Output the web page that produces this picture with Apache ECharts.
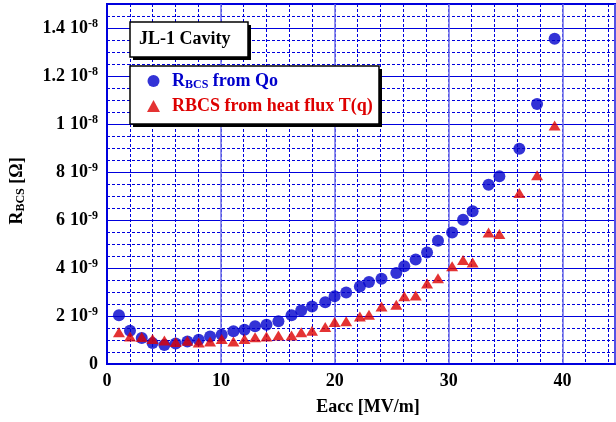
<!DOCTYPE html>
<html><head><meta charset="utf-8">
<script src="https://cdn.jsdelivr.net/npm/echarts@6/dist/echarts.min.js"></script>
<style>html,body{margin:0;padding:0;background:#fff}#c{width:616px;height:422px}</style>
</head><body><div id="c"></div>
<script>
// Accelerating gradient Eacc [MV/m]
const eacc = [1.05, 2.02, 3.05, 4.0, 5.04, 6.03, 7.06, 8.05, 9.05, 10.07, 11.1, 12.07, 13.0, 14.0, 15.05,
  16.2, 17.05, 18.0, 19.16, 19.98, 21.0, 22.2, 23.0, 24.1, 25.4, 26.1, 27.1, 28.1, 29.06, 30.3, 31.26,
  32.1, 33.5, 34.45, 36.2, 37.76, 39.3];
// R_BCS derived from Qo, in units of 1e-9 Ohm
const rbcsQo = [2.03, 1.39, 1.08, 0.87, 0.79, 0.85, 0.94, 1.01, 1.15, 1.22, 1.36, 1.43, 1.57, 1.64, 1.78,
  2.03, 2.23, 2.40, 2.57, 2.82, 2.98, 3.23, 3.42, 3.55, 3.79, 4.07, 4.35, 4.65, 5.14, 5.48, 6.01,
  6.36, 7.47, 7.82, 8.97, 10.83, 13.55];
// R_BCS derived from heat flux T(q), in units of 1e-9 Ohm
const rbcsHeat = [1.32, 1.15, 1.12, 1.04, 0.98, 0.92, 0.97, 0.90, 0.94, 1.04, 0.94, 1.04, 1.11, 1.15, 1.19,
  1.19, 1.32, 1.39, 1.54, 1.75, 1.78, 1.98, 2.05, 2.40, 2.47, 2.82, 2.85, 3.35, 3.57, 4.07, 4.33,
  4.23, 5.48, 5.42, 7.12, 7.86, 9.94];
// y tick labels: value (1e-9 Ohm) -> mantissa and power of ten
const yTickValues = [0, 2, 4, 6, 8, 10, 12, 14];
const yTickMant = ['0', '2', '4', '6', '8', '1', '1.2', '1.4'];
const yTickExp = ['', '-9', '-9', '-9', '-9', '-8', '-8', '-8'];
const xTickValues = [0, 10, 20, 30, 40];

const SERIF = '"Liberation Serif", "Times New Roman", serif';
const BLUE = '#0000cc';
const RED = '#dd0000';
const GRID = '#0000dd';

const chart = echarts.init(document.getElementById('c'), null, {renderer: 'canvas'});

const baseX = {type: 'value', min: 0, max: 44.6, gridIndex: 0, position: 'bottom'};
const baseY = {type: 'value', min: 0, max: 15, gridIndex: 0, position: 'left'};

chart.setOption({
  animation: false,
  backgroundColor: '#fff',
  grid: {left: 107, right: 1, top: 4, bottom: 58, show: true, borderColor: GRID, borderWidth: 2,
    backgroundColor: 'transparent', containLabel: false, outerBoundsMode: 'none'},
  xAxis: [
    Object.assign({}, baseX, {
      interval: 2,
      axisLine: {show: false}, axisTick: {show: false}, axisLabel: {show: false},
      splitLine: {show: true, lineStyle: {color: GRID, width: 1, type: [3, 2]}}
    }),
    Object.assign({}, baseX, {
      interval: 10,
      axisLine: {show: true, lineStyle: {color: GRID, width: 2}},
      axisTick: {show: false},
      splitLine: {show: true, lineStyle: {color: '#6e6ee8', width: 1.5}},
      axisLabel: {
        margin: 8, color: '#000', fontFamily: SERIF, fontWeight: 'bold', fontSize: 18,
        formatter: v => xTickValues.includes(v) ? String(v) : ''
      },
      name: 'Eacc [MV/m]', nameLocation: 'middle', nameGap: 34,
      nameTextStyle: {color: '#000', fontFamily: SERIF, fontWeight: 'bold', fontSize: 18, padding: [0, 0, 0, 14]}
    })
  ],
  yAxis: [
    Object.assign({}, baseY, {
      interval: 0.5,
      axisLine: {show: false}, axisTick: {show: false}, axisLabel: {show: false},
      splitLine: {show: true, lineStyle: {color: GRID, width: 1, type: [3, 2]}}
    }),
    Object.assign({}, baseY, {
      interval: 2,
      axisLine: {show: true, lineStyle: {color: GRID, width: 2}},
      axisTick: {show: false},
      splitLine: {show: true, lineStyle: {color: GRID, width: 1}},
      axisLabel: {
        margin: 9, color: '#000',
        formatter: v => {
          const i = yTickValues.indexOf(v);
          if (i < 0) return '';
          if (!yTickExp[i]) return '{m|' + yTickMant[i] + '}';
          return '{m|' + yTickMant[i] + '}{t|10}{e|' + yTickExp[i] + '}';
        },
        rich: {
          m: {fontFamily: SERIF, fontWeight: 'bold', fontSize: 18, lineHeight: 20, color: '#000'},
          t: {fontFamily: SERIF, fontWeight: 'bold', fontSize: 18, lineHeight: 20, color: '#000', padding: [0, 0, 0, 5]},
          e: {fontFamily: SERIF, fontWeight: 'bold', fontSize: 12, lineHeight: 12, verticalAlign: 'top', color: '#000'}
        }
      },
      name: '{m|R}{s|BCS}{m| [Ω]}', nameLocation: 'middle', nameGap: 80, nameRotate: 90,
      nameTextStyle: {
        padding: [0, 14, 0, 0],
        rich: {
          m: {fontFamily: SERIF, fontWeight: 'bold', fontSize: 18, lineHeight: 20, color: '#000'},
          s: {fontFamily: SERIF, fontWeight: 'bold', fontSize: 12, lineHeight: 12, verticalAlign: 'bottom', color: '#000'}
        }
      }
    })
  ],
  legend: {
    orient: 'vertical', left: 147, top: 72, padding: 0, itemWidth: 13, itemHeight: 12, itemGap: 6, z: 20,
    selectedMode: false,
    data: [
      {name: 'qo', icon: 'circle', textStyle: {color: BLUE}},
      {name: 'heat', icon: 'triangle', textStyle: {color: RED}}
    ],
    formatter: n => n === 'qo' ? '{b0|R}{bs|BCS}{b| from Qo}' : '{r|RBCS from heat flux T(q)}',
    textStyle: {
      rich: {
        b0: {fontFamily: SERIF, fontWeight: 'bold', fontSize: 18, lineHeight: 20, color: BLUE, padding: [0, 0, 0, 7]},
        b: {fontFamily: SERIF, fontWeight: 'bold', fontSize: 18, lineHeight: 20, color: BLUE},
        bs: {fontFamily: SERIF, fontWeight: 'bold', fontSize: 12, lineHeight: 12, verticalAlign: 'bottom', color: BLUE},
        r: {fontFamily: SERIF, fontWeight: 'bold', fontSize: 18, lineHeight: 20, color: RED, padding: [0, 0, 0, 7]}
      }
    }
  },
  graphic: [
    {type: 'rect', z: 10, shape: {x: 133, y: 25, width: 118, height: 35}, style: {fill: '#000'}},
    {type: 'rect', z: 11, shape: {x: 130, y: 22, width: 118, height: 35}, style: {fill: '#fff', stroke: '#000', lineWidth: 1.5}},
    {type: 'text', z: 12, left: 139, top: 30, style: {text: 'JL-1 Cavity', fill: '#000', font: 'bold 18px ' + SERIF}},
    {type: 'rect', z: 10, shape: {x: 133, y: 69, width: 249, height: 58}, style: {fill: '#000'}},
    {type: 'rect', z: 11, shape: {x: 130, y: 66, width: 249, height: 58}, style: {fill: '#fff', stroke: '#000', lineWidth: 1.5}}
  ],
  series: [
    {name: 'qo', type: 'scatter', xAxisIndex: 1, yAxisIndex: 1, symbol: 'circle', symbolSize: 12,
      itemStyle: {color: BLUE}, data: eacc.map((x, i) => [x, rbcsQo[i]])},
    {name: 'heat', type: 'scatter', xAxisIndex: 1, yAxisIndex: 1, symbol: 'triangle', symbolSize: [12, 10],
      itemStyle: {color: RED}, data: eacc.map((x, i) => [x, rbcsHeat[i]])}
  ]
});
</script>
</body></html>
